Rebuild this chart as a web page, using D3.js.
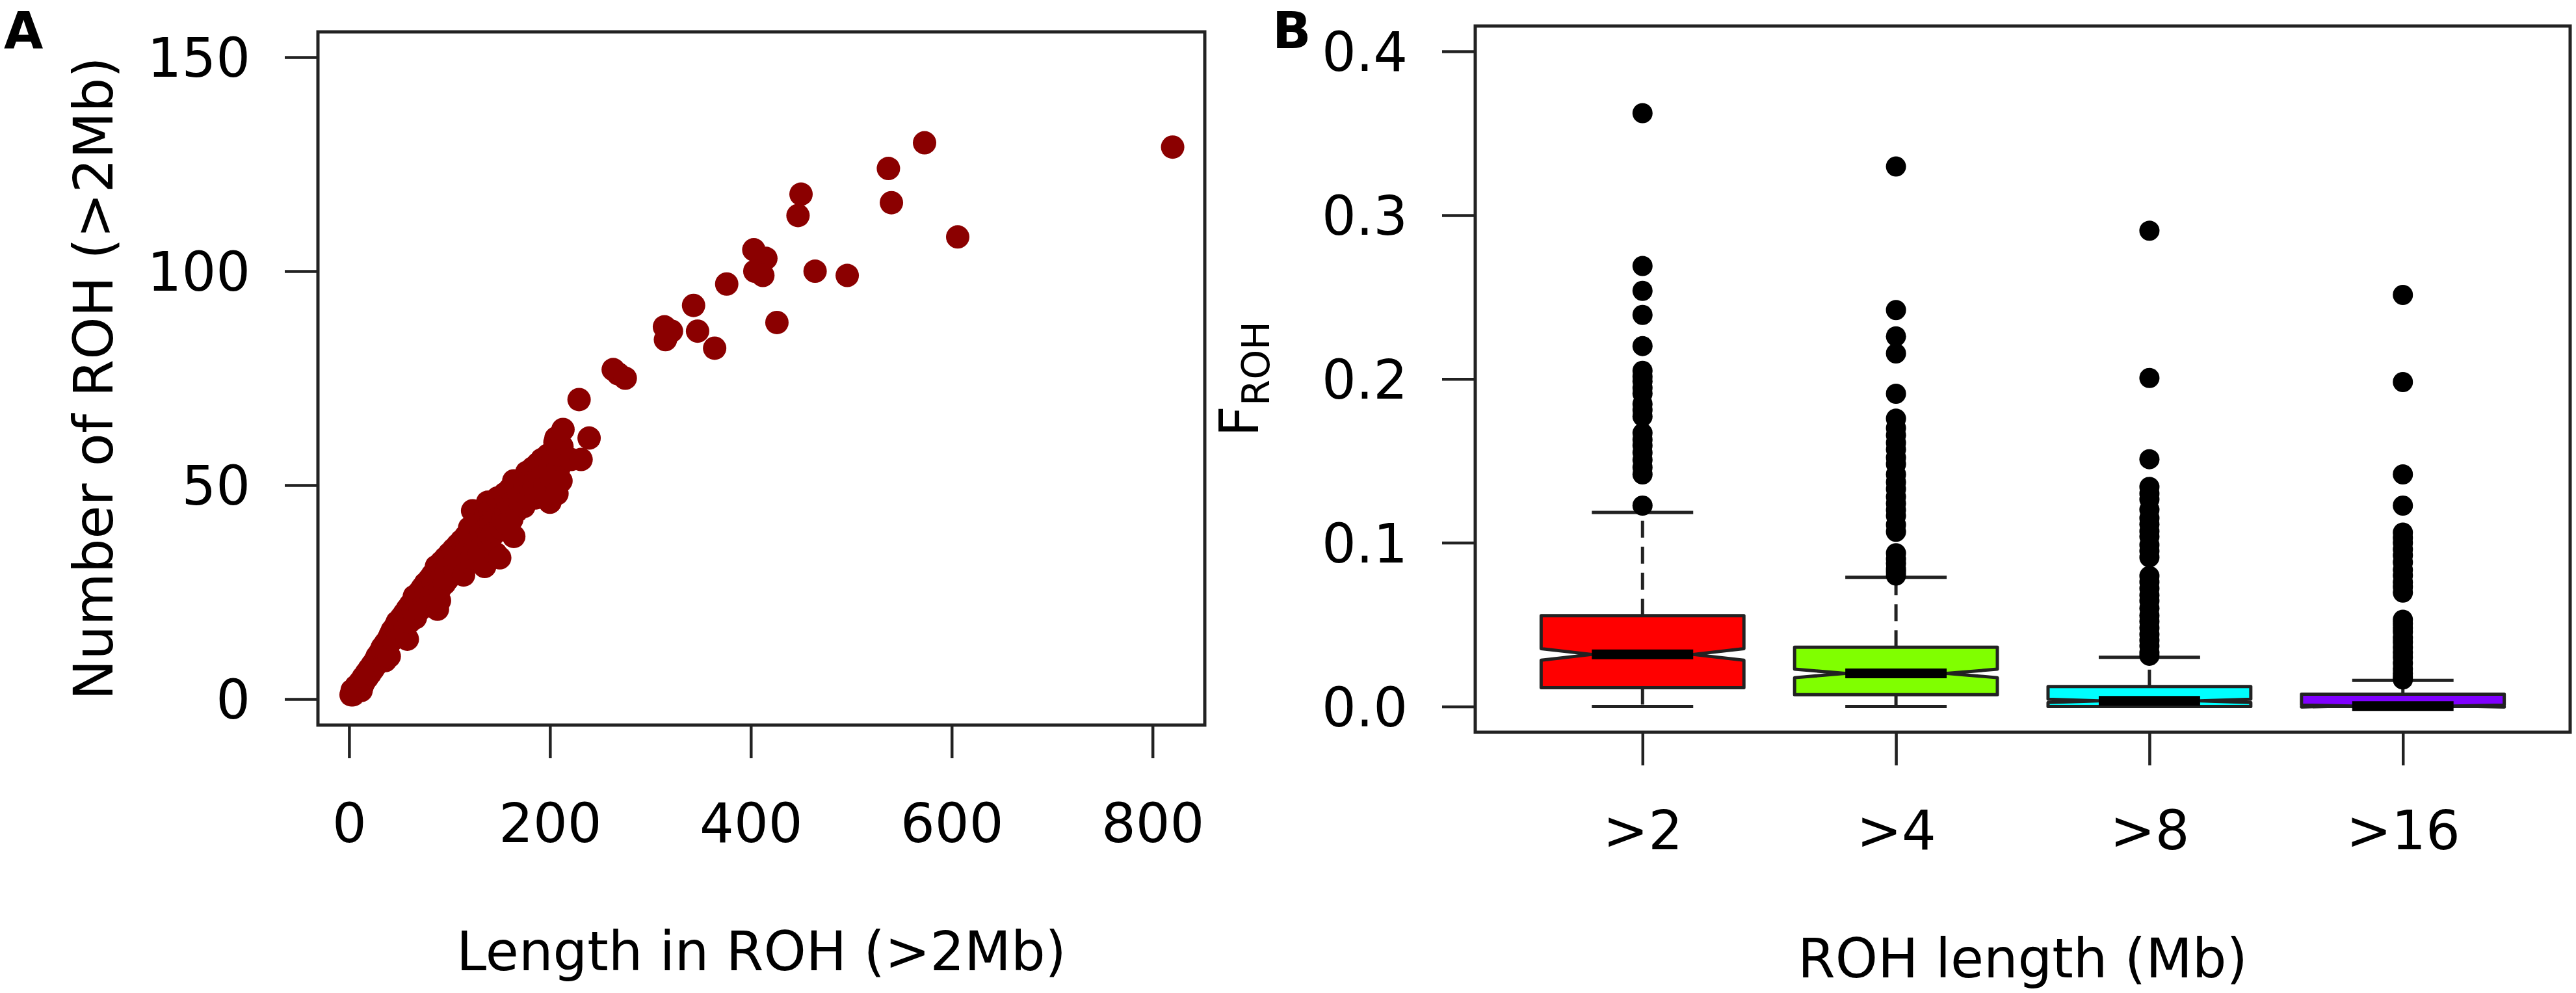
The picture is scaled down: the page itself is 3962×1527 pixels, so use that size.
<!DOCTYPE html>
<html>
<head>
<meta charset="utf-8">
<script src="https://cdn.jsdelivr.net/npm/d3@7"></script>
<style>
  body { margin: 0; background: #fff; }
  text { font-family: "DejaVu Sans", sans-serif; }
</style>
</head>
<body>
<div id="chart"></div>
<script>
// ---- panel A data: total length in ROH (Mb) vs number of ROH, both for ROH > 2Mb ----
const rohPoints = [
  [2,1],[3,2],[4,1],[5,2],[6,2],[7,3],[8,2],[9,3],[10,3],[10,2],[11,4],[12,4],[12,2],[13,3],
  [14,5],[15,4],[16,5],[17,6],[18,5],[19,6],[20,7],[21,6],[22,7],[23,8],[24,7],[25,8],[26,9],
  [27,8],[28,10],[29,9],[30,10],[31,11],[32,10],[33,12],[34,11],[35,12],[36,13],[36,9],[38,12],
  [38,10],[39,14],[40,13],[40,10],[41,15],[42,14],[43,16],[44,14],[45,15],[46,17],[47,16],[48,18],
  [49,15],[50,17],[52,19],[53,16],[54,18],[55,20],[56,17],[58,21],[58,14],[59,19],[60,18],[61,22],
  [62,20],[64,21],[65,24],[66,19],[67,23],[68,22],[70,25],[71,21],[72,24],[73,26],[75,23],[76,27],
  [77,25],[78,22],[80,28],[81,26],[82,24],[83,29],[84,27],[85,25],[87,31],[88,21],[89,28],[90,30],
  [90,23],[91,26],[92,32],[93,29],[95,27],[96,33],[97,30],[98,28],[100,34],[101,31],[102,29],
  [104,35],[105,32],[106,30],[108,36],[109,33],[110,31],[112,37],[113,34],[114,29],[116,38],
  [117,35],[118,32],[120,40],[121,36],[122,33],[123,44],[124,38],[125,35],[127,41],[128,37],
  [130,34],[131,42],[132,39],[133,36],[135,31],[136,43],[137,40],[138,46],[139,37],[140,44],
  [141,41],[142,38],[144,45],[145,42],[146,39],[146,34],[148,47],[149,43],[150,33],[151,40],
  [152,45],[153,42],[155,48],[156,44],[157,41],[158,46],[160,49],[161,45],[162,42],[164,51],
  [164,38],[165,47],[167,44],[168,49],[170,46],[171,51],[172,48],[174,45],[175,50],[177,53],
  [178,47],[180,51],[181,49],[183,54],[184,50],[185,51],[186,47],[188,55],[189,52],[190,49],
  [192,56],[193,53],[195,50],[196,55],[198,57],[200,54],[200,46],[201,52],[203,56],[205,60],
  [207,48],[208,55],[209,54],[210,57],[211,51],[212,59],
  [206,61],[213,63],[221,56],[231,56],[239,61],[229,70],[263,77],[268,76],[275,75],
  [314,87],[321,86],[315,84],[343,92],[347,86],[364,82],[376,97],[426,88],
  [403,105],[415,103],[404,100],[412,99],[464,100],[496,99],[450,118],[447,113],
  [537,124],[540,116],[573,130],[606,108],[820,129]
];
const scatterXTicks = [0, 200, 400, 600, 800];
const scatterYTicks = [0, 50, 100, 150];

// ---- panel B data: F_ROH per ROH length class (notched boxplot) ----
const boxCategories = [">2", ">4", ">8", ">16"];
const boxColors = ["#FF0000", "#80FF00", "#00FFFF", "#8000FF"];
const whiskerLow = [0, 0, 0, 0];
const hingeLow = [0.0115, 0.0072, 0.0, 0.0];
const medians = [0.0318, 0.0202, 0.0035, 0.0003];
const hingeHigh = [0.0555, 0.0362, 0.0122, 0.0075];
const whiskerHigh = [0.1185, 0.0789, 0.0301, 0.0160];
const notchHalf = [0.0035, 0.0026, 0.0010, 0.0006];
const outliers2 = [0.3623, 0.2690, 0.2538, 0.2391, 0.2201, 0.2050, 0.2015, 0.1986, 0.1945, 0.1911,
  0.1847, 0.1810, 0.1771, 0.1670, 0.1630, 0.1594, 0.1550, 0.1506, 0.1460, 0.1417, 0.1227];
const outliers4 = [0.3297, 0.2421, 0.2260, 0.2156, 0.1910, 0.1758, 0.1700, 0.1657, 0.1610, 0.1569,
  0.1520, 0.1480, 0.1417, 0.1370, 0.1328, 0.1280, 0.1240, 0.1200, 0.1164, 0.1110, 0.1067,
  0.0936, 0.0900, 0.0873, 0.0840, 0.0822, 0.0800];
const outliers8 = [0.2905, 0.2006, 0.1510, 0.1341, 0.1300, 0.1265, 0.1202, 0.1150, 0.1113, 0.1070,
  0.1037, 0.0987, 0.0950, 0.0911, 0.0797, 0.0760, 0.0721, 0.0680, 0.0645, 0.0600, 0.0556,
  0.0520, 0.0480, 0.0440, 0.0404, 0.0370, 0.0329, 0.0310];
const outliers16 = [0.2513, 0.1981, 0.1417, 0.1227, 0.1062, 0.1030, 0.0999, 0.0960, 0.0923, 0.0880,
  0.0835, 0.0800, 0.0759, 0.0730, 0.0696, 0.0530, 0.0506, 0.0480, 0.0455, 0.0420, 0.0392,
  0.0360, 0.0329, 0.0300, 0.0265, 0.0230, 0.0202, 0.0180, 0.0165];
const boxOutliers = [outliers2, outliers4, outliers8, outliers16];
const boxYTicks = [0, 0.1, 0.2, 0.3, 0.4];

const W = 3962, H = 1527;
const fs = 83;
const ink = "#222";

const svg = d3.select("#chart").append("svg")
    .attr("width", W)
    .attr("height", H);
svg.append("rect").attr("width", W).attr("height", H).attr("fill", "#fff");

function styleAxis(g) {
    g.select(".domain").remove();
    g.selectAll(".tick line").attr("stroke", ink).attr("stroke-width", 4.5);
    g.selectAll(".tick text")
        .attr("font-size", fs)
        .attr("fill", "#000")
        .attr("font-family", "DejaVu Sans, sans-serif");
}

// =================== panel A ===================
const boxA = {left: 489, top: 49, right: 1853, bottom: 1115};
const xA = d3.scaleLinear().domain([-31, 852]).range([boxA.left, boxA.right]);
const yA = d3.scaleLinear().domain([-6.08, 155.93]).range([boxA.bottom, boxA.top]);

svg.append("g")
    .selectAll("circle")
    .data(rohPoints)
    .enter()
    .append("circle")
    .attr("cx", d => xA(d[0]))
    .attr("cy", d => yA(d[1]))
    .attr("r", 18)
    .attr("fill", "#8B0000");

svg.append("g")
    .attr("transform", "translate(" + boxA.left + ",0)")
    .call(d3.axisLeft(yA).tickValues(scatterYTicks).tickSize(51).tickPadding(53).tickFormat(d3.format("d")))
    .call(styleAxis)
    .selectAll(".tick text").attr("dy", "0.36em");

svg.append("g")
    .attr("transform", "translate(0," + boxA.bottom + ")")
    .call(d3.axisBottom(xA).tickValues(scatterXTicks).tickSize(51).tickFormat(d3.format("d")))
    .call(styleAxis)
    .selectAll(".tick text").attr("y", 180).attr("dy", 0);

svg.append("rect")
    .attr("x", boxA.left).attr("y", boxA.top)
    .attr("width", boxA.right - boxA.left).attr("height", boxA.bottom - boxA.top)
    .attr("fill", "none").attr("stroke", ink).attr("stroke-width", 5);

svg.append("text")
    .attr("x", (boxA.left + boxA.right) / 2).attr("y", boxA.bottom + 377)
    .attr("text-anchor", "middle").attr("font-size", fs)
    .text("Length in ROH (>2Mb)");

svg.append("text")
    .attr("transform", "translate(173," + (boxA.top + boxA.bottom) / 2 + ")rotate(-90)")
    .attr("text-anchor", "middle").attr("font-size", fs)
    .text("Number of ROH (>2Mb)");

svg.append("text")
    .attr("x", 6).attr("y", 74)
    .attr("font-size", 78).attr("font-weight", "bold")
    .text("A");

// =================== panel B ===================
const boxB = {left: 2269, top: 40, right: 3953, bottom: 1126};
const xB = d3.scalePoint().domain(boxCategories).range([boxB.left, boxB.right]).padding(0.66);
const yB = d3.scaleLinear().domain([-0.0157, 0.4155]).range([boxB.bottom, boxB.top]);
const halfW = 0.4 * xB.step();

const boxes = boxCategories.map((c, i) => ({
    cat: c, fill: boxColors[i],
    lo: whiskerLow[i], q1: hingeLow[i], med: medians[i], q3: hingeHigh[i], hi: whiskerHigh[i],
    notch: notchHalf[i], out: boxOutliers[i]
}));

const gB = svg.append("g");
const notchLine = d3.line();

boxes.forEach(b => {
    const cx = xB(b.cat);
    const g = gB.append("g");

    // notched box, same outline as R's bxp
    const fx = [-1, 1, 1, 0.5, 1, 1, -1, -1, -0.5, -1];
    const fy = [b.q1, b.q1, b.med - b.notch, b.med, b.med + b.notch, b.q3, b.q3, b.med + b.notch, b.med, b.med - b.notch];
    g.append("path")
        .attr("d", notchLine(fx.map((f, k) => [cx + f * halfW, yB(fy[k])])) + "Z")
        .attr("fill", b.fill).attr("stroke", ink).attr("stroke-width", 5).attr("stroke-linejoin", "round");

    // whiskers and staples
    [[b.q3, b.hi], [b.q1, b.lo]].forEach(([from, to]) => {
        if (from !== to) {
            g.append("line")
                .attr("x1", cx).attr("x2", cx)
                .attr("y1", yB(from)).attr("y2", yB(to))
                .attr("stroke", ink).attr("stroke-width", 5).attr("stroke-dasharray", "26,14");
        }
        g.append("line")
            .attr("x1", cx - halfW / 2).attr("x2", cx + halfW / 2)
            .attr("y1", yB(to)).attr("y2", yB(to))
            .attr("stroke", ink).attr("stroke-width", 5);
    });

    // median
    g.append("line")
        .attr("x1", cx - halfW / 2).attr("x2", cx + halfW / 2)
        .attr("y1", yB(b.med)).attr("y2", yB(b.med))
        .attr("stroke", "#000").attr("stroke-width", 15);

    // outliers
    g.selectAll("circle")
        .data(b.out)
        .enter()
        .append("circle")
        .attr("cx", cx)
        .attr("cy", d => yB(d))
        .attr("r", 15.5)
        .attr("fill", "#000");
});

svg.append("g")
    .attr("transform", "translate(" + boxB.left + ",0)")
    .call(d3.axisLeft(yB).tickValues(boxYTicks).tickSize(51).tickPadding(53).tickFormat(d3.format(".1f")))
    .call(styleAxis)
    .selectAll(".tick text").attr("dy", "0.36em");

svg.append("g")
    .attr("transform", "translate(0," + boxB.bottom + ")")
    .call(d3.axisBottom(xB).tickSize(51))
    .call(styleAxis)
    .selectAll(".tick text").attr("y", 180).attr("dy", 0);

svg.append("rect")
    .attr("x", boxB.left).attr("y", boxB.top)
    .attr("width", boxB.right - boxB.left).attr("height", boxB.bottom - boxB.top)
    .attr("fill", "none").attr("stroke", ink).attr("stroke-width", 5);

svg.append("text")
    .attr("x", (boxB.left + boxB.right) / 2).attr("y", boxB.bottom + 377)
    .attr("text-anchor", "middle").attr("font-size", fs)
    .text("ROH length (Mb)");

const fTitle = svg.append("text")
    .attr("transform", "translate(1935," + (boxB.top + boxB.bottom) / 2 + ")rotate(-90)")
    .attr("text-anchor", "middle").attr("font-size", fs);
fTitle.append("tspan").text("F");
fTitle.append("tspan").attr("font-size", 58).attr("dy", 17).text("ROH");

svg.append("text")
    .attr("x", 1957).attr("y", 74)
    .attr("font-size", 78).attr("font-weight", "bold")
    .text("B");
</script>
</body>
</html>
